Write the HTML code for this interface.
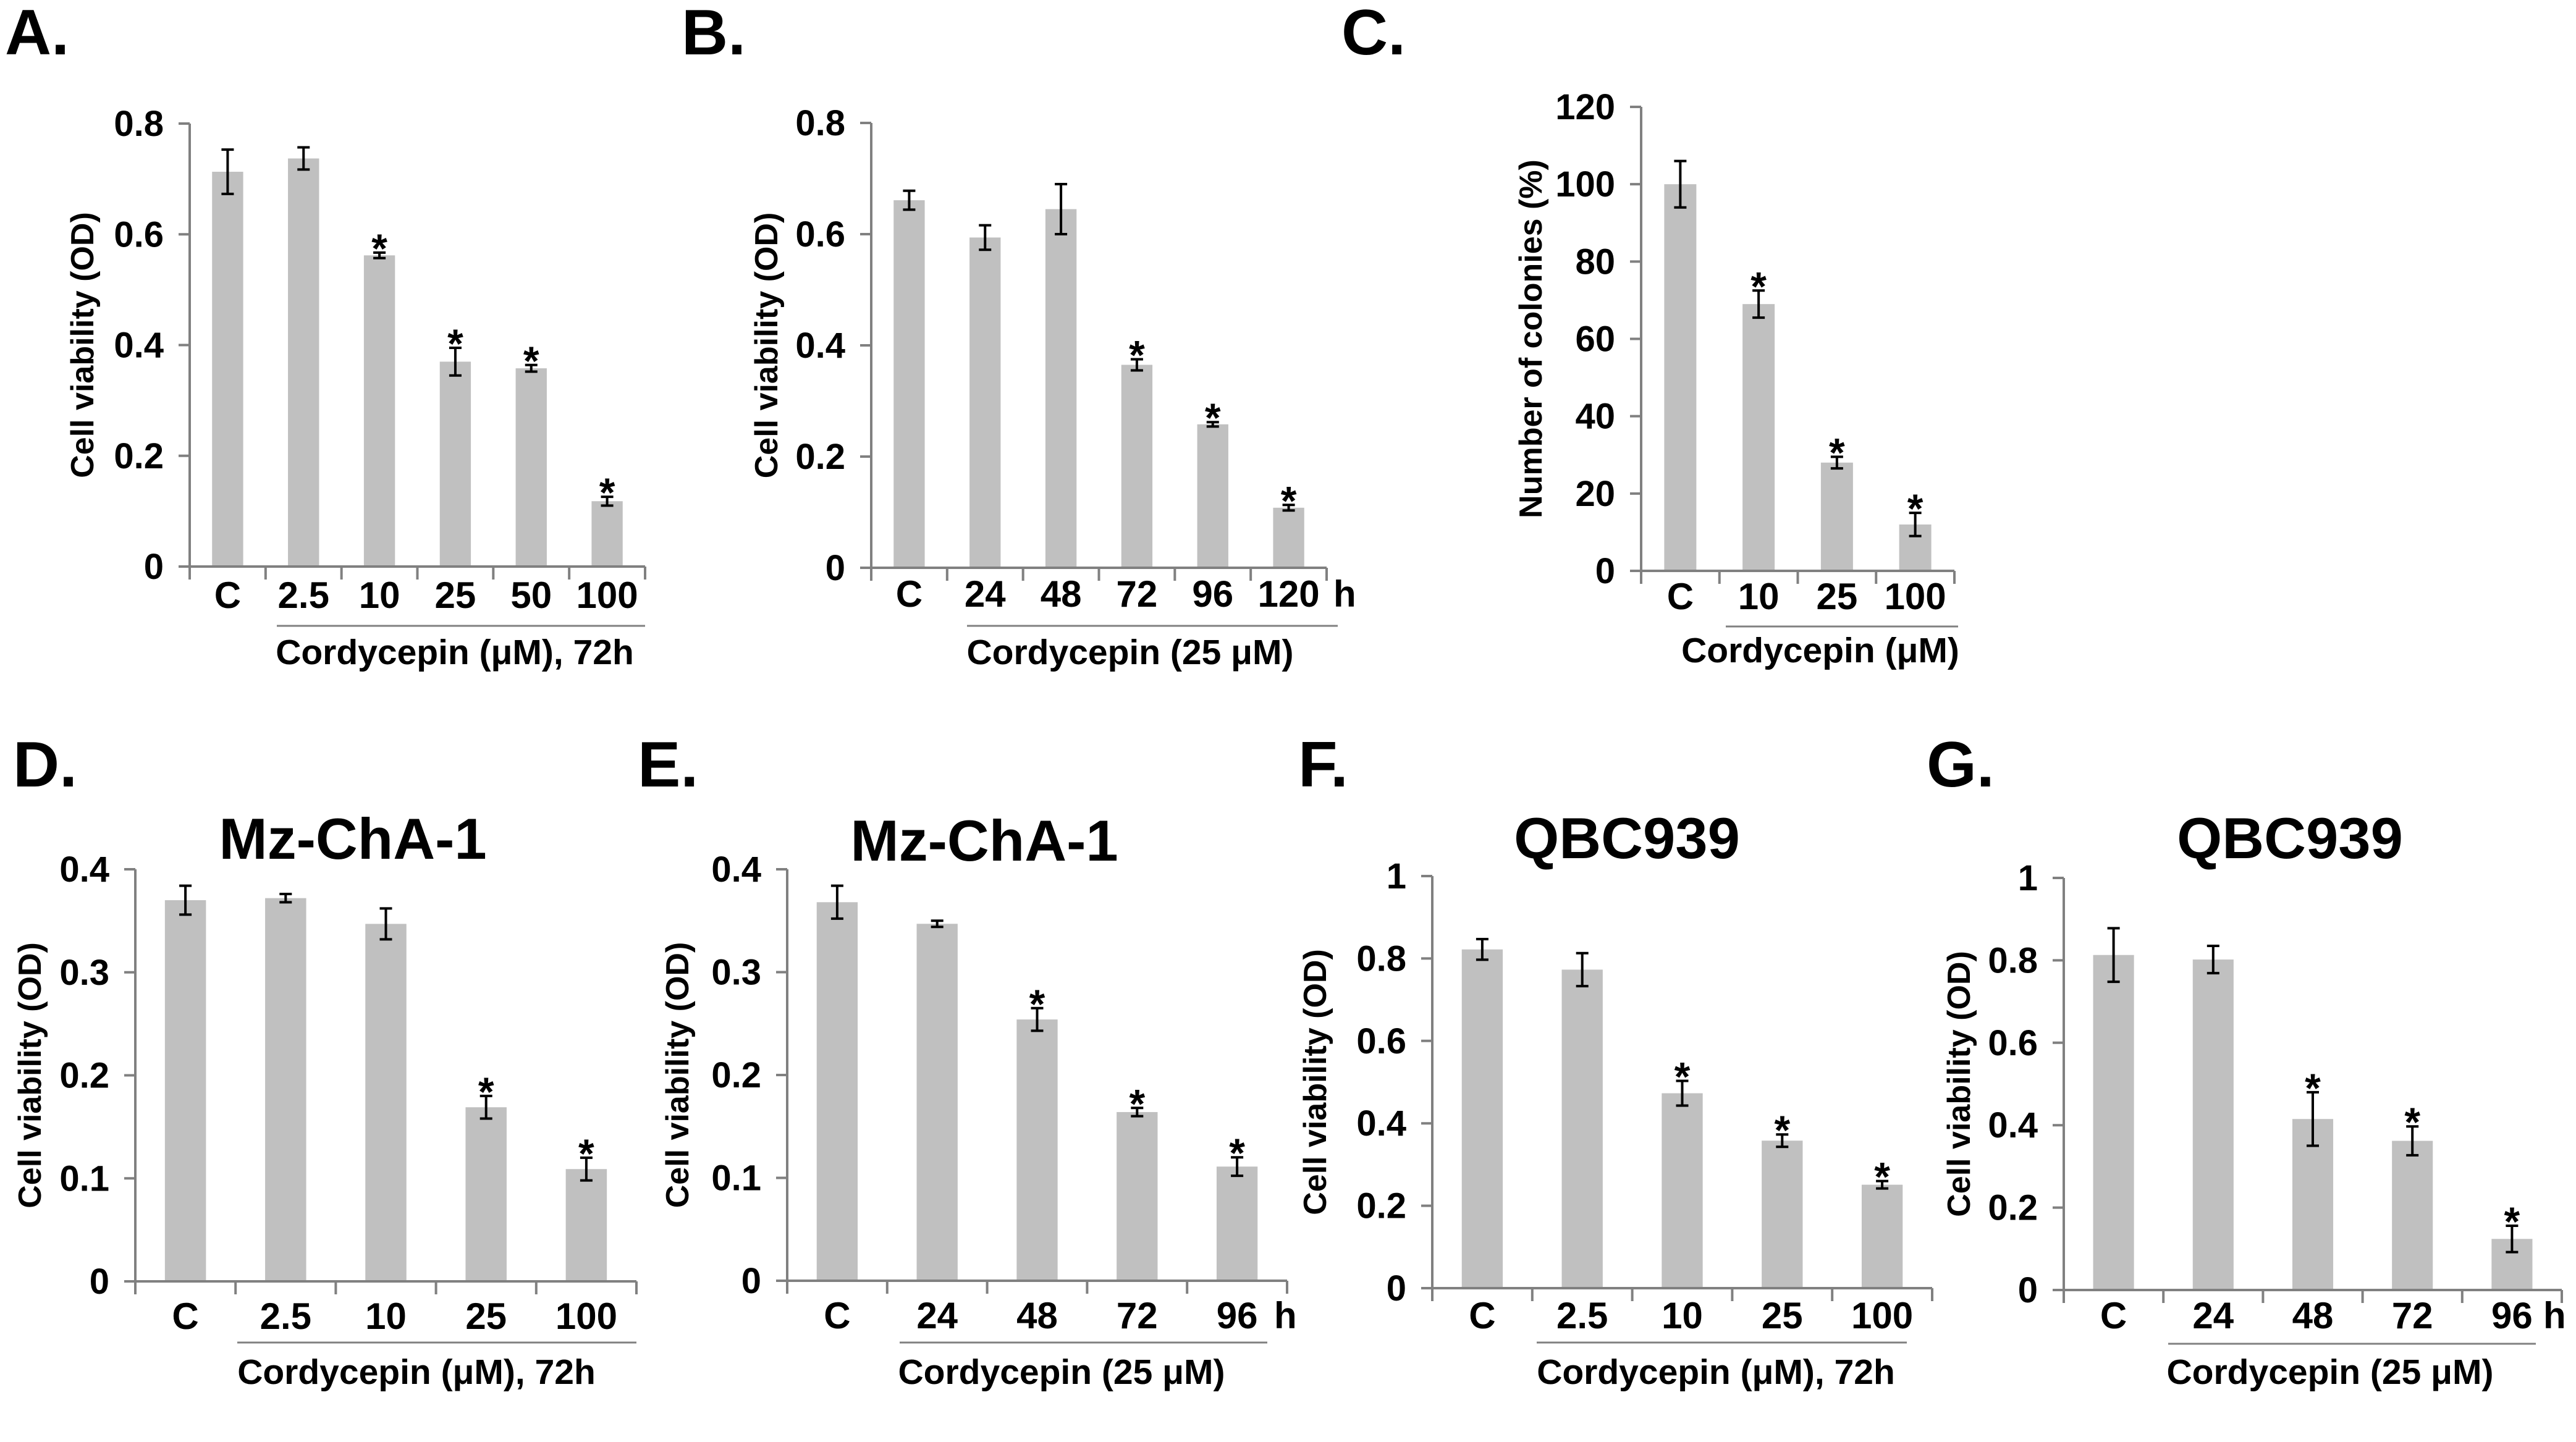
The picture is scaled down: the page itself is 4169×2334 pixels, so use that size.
<!DOCTYPE html>
<html><head><meta charset="utf-8">
<style>
html,body{margin:0;padding:0;background:#fff;}
svg{display:block;font-family:"Liberation Sans",Arial,sans-serif;font-weight:bold;}
</style></head>
<body>
<svg id="fig" width="4169" height="2334" viewBox="0 0 4169 2334" xmlns="http://www.w3.org/2000/svg"></svg>
<script>
// Panel data
const catsA = ["C","2.5","10","25","50","100"];
const valsA = [0.713,0.737,0.562,0.370,0.358,0.118];
const errA  = [0.040,0.020,0.005,0.025,0.006,0.008];
const starA = [0,0,1,1,1,1];
const ticksA = [0,0.2,0.4,0.6,0.8];
const tickLabA = ["0","0.2","0.4","0.6","0.8"];

const catsB = ["C","24","48","72","96","120"];
const valsB = [0.661,0.594,0.645,0.365,0.258,0.108];
const errB  = [0.017,0.022,0.045,0.010,0.004,0.005];
const starB = [0,0,0,1,1,1];
const ticksB = [0,0.2,0.4,0.6,0.8];
const tickLabB = ["0","0.2","0.4","0.6","0.8"];

const catsC = ["C","10","25","100"];
const valsC = [100,69,28,12];
const errC  = [6,3.5,1.5,3];
const starC = [0,1,1,1];
const ticksC = [0,20,40,60,80,100,120];
const tickLabC = ["0","20","40","60","80","100","120"];

const catsD = ["C","2.5","10","25","100"];
const valsD = [0.370,0.372,0.347,0.169,0.109];
const errD  = [0.014,0.004,0.015,0.011,0.011];
const starD = [0,0,0,1,1];
const ticksD = [0,0.1,0.2,0.3,0.4];
const tickLabD = ["0","0.1","0.2","0.3","0.4"];

const catsE = ["C","24","48","72","96"];
const valsE = [0.368,0.347,0.254,0.164,0.111];
const errE  = [0.016,0.003,0.011,0.004,0.009];
const starE = [0,0,1,1,1];
const ticksE = [0,0.1,0.2,0.3,0.4];
const tickLabE = ["0","0.1","0.2","0.3","0.4"];

const catsF = ["C","2.5","10","25","100"];
const valsF = [0.822,0.773,0.473,0.358,0.251];
const errF  = [0.025,0.040,0.030,0.015,0.009];
const starF = [0,0,1,1,1];
const ticksF = [0,0.2,0.4,0.6,0.8,1];
const tickLabF = ["0","0.2","0.4","0.6","0.8","1"];

const catsG = ["C","24","48","72","96"];
const valsG = [0.813,0.802,0.415,0.362,0.124];
const errG  = [0.065,0.033,0.065,0.035,0.032];
const starG = [0,0,1,1,1];
const ticksG = [0,0.2,0.4,0.6,0.8,1];
const tickLabG = ["0","0.2","0.4","0.6","0.8","1"];

const NS = "http://www.w3.org/2000/svg";
const svg = document.getElementById("fig");
function mk(tag, attrs, parent){
  const e = document.createElementNS(NS, tag);
  for (const k in attrs) e.setAttribute(k, attrs[k]);
  (parent||svg).appendChild(e);
  return e;
}
function txt(s, attrs, parent){ const t = mk("text", attrs, parent); t.textContent = s; return t; }

const panels = [
 {id:"a", letter:"A.", lx:8, ly:88, cats:catsA, vals:valsA, err:errA, star:starA, ticks:ticksA, tl:tickLabA, max:0.8,
  x0:307, x1:1044, y0:917, yTop:200, catY:984, ul:[448,1044,1013], cordX:736, cordY:1075, cord:"Cordycepin (\u03bcM), 72h",
  ylab:"Cell viability (OD)", ylx:134, h:null, title:null},
 {id:"b", letter:"B.", lx:1103, ly:88, cats:catsB, vals:valsB, err:errB, star:starB, ticks:ticksB, tl:tickLabB, max:0.8,
  x0:1410, x1:2147, y0:919, yTop:199, catY:982, ul:[1565,2165,1013], cordX:1829, cordY:1075, cord:"Cordycepin (25 \u03bcM)",
  ylab:"Cell viability (OD)", ylx:1241, h:2158, title:null},
 {id:"c", letter:"C.", lx:2171, ly:88, cats:catsC, vals:valsC, err:errC, star:starC, ticks:ticksC, tl:tickLabC, max:120,
  x0:2656, x1:3163, y0:924, yTop:173, catY:986, ul:[2793,3169,1014], cordX:2946, cordY:1072, cord:"Cordycepin (\u03bcM)",
  ylab:"Number of colonies (%)", ylx:2478, h:null, title:null},
 {id:"d", letter:"D.", lx:21, ly:1273, cats:catsD, vals:valsD, err:errD, star:starD, ticks:ticksD, tl:tickLabD, max:0.4,
  x0:219, x1:1030, y0:2074, yTop:1407, catY:2151, ul:[384,1030,2173], cordX:674, cordY:2240, cord:"Cordycepin (\u03bcM), 72h",
  ylab:"Cell viability (OD)", ylx:49, h:null, title:"Mz-ChA-1", tx:571, ty:1390},
 {id:"e", letter:"E.", lx:1032, ly:1273, cats:catsE, vals:valsE, err:errE, star:starE, ticks:ticksE, tl:tickLabE, max:0.4,
  x0:1274, x1:2083, y0:2073, yTop:1407, catY:2150, ul:[1456,2051,2173], cordX:1718, cordY:2240, cord:"Cordycepin (25 \u03bcM)",
  ylab:"Cell viability (OD)", ylx:1097, h:2062, title:"Mz-ChA-1", tx:1593, ty:1393},
 {id:"f", letter:"F.", lx:2101, ly:1273, cats:catsF, vals:valsF, err:errF, star:starF, ticks:ticksF, tl:tickLabF, max:1,
  x0:2318, x1:3127, y0:2085, yTop:1418, catY:2150, ul:[2487,3086,2173], cordX:2777, cordY:2240, cord:"Cordycepin (\u03bcM), 72h",
  ylab:"Cell viability (OD)", ylx:2129, h:null, title:"QBC939", tx:2633, ty:1389},
 {id:"g", letter:"G.", lx:3118, ly:1273, cats:catsG, vals:valsG, err:errG, star:starG, ticks:ticksG, tl:tickLabG, max:1,
  x0:3340, x1:4146, y0:2088, yTop:1421, catY:2150, ul:[3509,4104,2175], cordX:3771, cordY:2240, cord:"Cordycepin (25 \u03bcM)",
  ylab:"Cell viability (OD)", ylx:3171, h:4116, title:"QBC939", tx:3706, ty:1389}
];

panels.forEach(p => {
  const g = mk("g", {});
  
  
  const n = p.cats.length;
  const step = (p.x1 - p.x0) / n;
  const xC = i => p.x0 + step * (i + 0.5);
  const yS = v => p.y0 - (v / p.max) * (p.y0 - p.yTop);
  const bw = step * 0.41;

  const L = txt(p.letter, {x:p.lx, y:p.ly, "font-size":104, fill:"#000"}, g);
  
  

  if (p.title) {
    const t = txt(p.title, {x:p.tx, y:p.ty, "font-size":94, "text-anchor":"middle", fill:"#000"}, g);
    
    
  }

  p.vals.forEach((v, i) => {
    const r = mk("rect", {x:xC(i)-bw/2, y:yS(v), width:bw, height:p.y0 - yS(v), fill:"#c0c0c0"}, g);
    
    
    const top = yS(v + p.err[i]), bot = yS(v - p.err[i]);
    const eb = mk("path", {d:`M${xC(i)} ${top}V${bot}M${xC(i)-10} ${top}H${xC(i)+10}M${xC(i)-10} ${bot}H${xC(i)+10}`,
      stroke:"#000", "stroke-width":4, fill:"none"}, g);
    
    
    if (p.star[i]) {
      const s = txt("*", {x:xC(i), y:top + 16, "font-size":66, "text-anchor":"middle", fill:"#000"}, g);
      
      
    }
  });

  const ax = mk("path", {d:`M${p.x0} ${p.yTop}V${p.y0}H${p.x1}`, stroke:"#808080", "stroke-width":4, fill:"none"}, g);
  
  
  p.ticks.forEach((t, k) => {
    const y = yS(t);
    const tk = mk("line", {x1:p.x0-18, x2:p.x0, y1:y, y2:y, stroke:"#808080", "stroke-width":4}, g);
    
    
    const tl = txt(p.tl[k], {x:p.x0-42, y:y+20, "font-size":58, "text-anchor":"end", fill:"#000"}, g);
    
    
  });
  for (let i = 0; i <= n; i++) {
    const x = p.x0 + step * i;
    const tk = mk("line", {x1:x, x2:x, y1:p.y0, y2:p.y0+21, stroke:"#808080", "stroke-width":4}, g);
    
    
  }
  p.cats.forEach((c, i) => {
    const cl = txt(c, {x:xC(i), y:p.catY, "font-size":60, "text-anchor":"middle", fill:"#000"}, g);
    
    
  });
  if (p.h) {
    const h = txt("h", {x:p.h, y:p.catY, "font-size":60, fill:"#000"}, g);
    
    
  }
  const ul = mk("line", {x1:p.ul[0], x2:p.ul[1], y1:p.ul[2], y2:p.ul[2], stroke:"#808080", "stroke-width":3}, g);
  
  
  const cd = txt(p.cord, {x:p.cordX, y:p.cordY, "font-size":57, "text-anchor":"middle", fill:"#000"}, g);
  
  

  const ymid = (p.y0 + p.yTop) / 2;
  const yl = txt(p.ylab, {x:p.ylx, y:ymid, "font-size":52, "text-anchor":"middle", "dominant-baseline":"central",
    transform:`rotate(-90 ${p.ylx} ${ymid})`, fill:"#000"}, g);
  
  
});
</script>
</body></html>
